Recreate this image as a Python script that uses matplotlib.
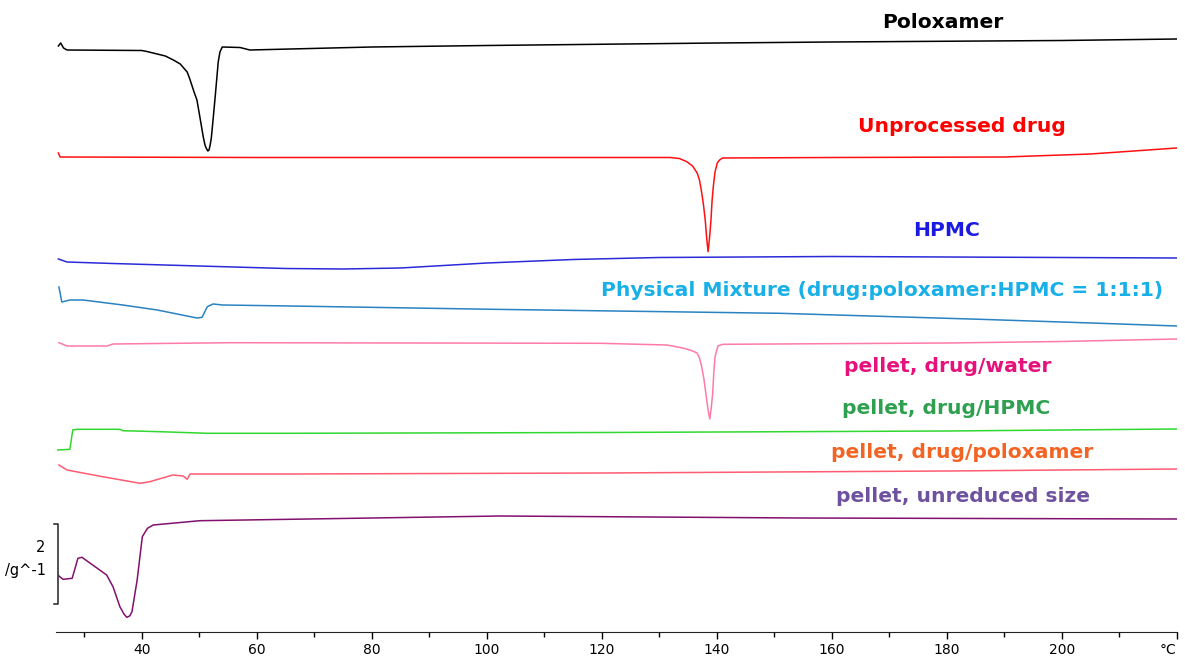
import matplotlib.pyplot as plt

# temperatura (°C) e sinal DSC deslocado (unidades arbitrárias, eixo invertido)
t_polox = [25.5, 25.9, 26.4, 27, 40, 40.9, 44.1, 45.5, 46.7, 47.9, 48.3, 49.1,
           49.6, 50.2, 50.7, 51.0, 51.2, 51.5, 51.7, 51.9, 52.1, 52.4, 52.8,
           53.3, 53.6, 54.0, 57.1, 58.8, 80, 100, 140, 160, 200, 220]
y_polox = [46, 43, 48, 50, 50.5, 51.5, 56, 60, 64, 72, 78, 92,
           100, 120, 137, 145, 148, 151, 150, 145, 138, 120, 95,
           62, 52, 47, 47.5, 50, 47, 45.5, 43, 42, 40.5, 39]

t_droga = [25.5, 25.8, 60, 100, 131.9, 133.5, 134.8, 135.8, 136.6, 137.0,
           137.4, 137.7, 138.0, 138.25, 138.5, 138.75, 139.0, 139.2, 139.4,
           139.7, 140.1, 140.5, 141.0, 160, 190, 205, 215, 220]
y_droga = [153, 157, 157.5, 157.5, 157.5, 158.5, 161.7, 166, 173, 180,
           193, 205, 220, 238, 251.7, 238, 220, 200, 187,
           172, 163, 160, 158, 157.5, 157, 154, 150, 148]

t_hpmc = [25.5, 27, 35, 50, 65, 75, 85, 100, 115, 130, 145, 160, 180, 200,
          220]
y_hpmc = [259, 262, 263.5, 266, 268.5, 269, 268, 263, 259.5, 257.5, 257,
          256.5, 257, 257.5, 258]

t_mistura = [25.6, 26.1, 27.5, 29.8, 36.7, 42.7, 49.6, 50.5, 51.4, 52.4, 54.1,
             65.8, 101.0, 151.0, 185.8, 206.7, 220]
y_mistura = [287, 302, 300, 300, 305, 310, 318, 317.3, 306.7, 304, 305,
             306, 309.3, 313.3, 319.3, 323.3, 326]

t_agua = [25.6, 27.0, 34.0, 35.0, 55.4, 119.7, 131.3, 134.1, 135.6, 136.6,
          137.0, 137.4, 137.8, 138.1, 138.5, 138.8, 139.05, 139.3, 139.5,
          139.7, 140.2, 141.1, 180, 200, 220]
y_agua = [342.7, 346, 346, 344, 342.7, 343.3, 345, 348, 350.5, 353,
          358, 367, 380, 393, 410, 419, 408, 393, 372,
          357, 346, 344.3, 343, 341.5, 339]

t_p_hpmc = [25.4, 27.5, 28.0, 28.7, 36.2, 36.7, 43.2, 51.4, 65.8, 120, 180,
            220]
y_p_hpmc = [450, 449.3, 430, 429.3, 429.3, 430.7, 431.7, 433.3, 433.3, 432.5,
            431, 429]

t_p_polox = [25.6, 27.0, 33.0, 39.7, 41.4, 45.4, 47.2, 47.9, 48.4, 65.8, 120,
             180, 220]
y_p_polox = [465, 470, 476.5, 483.3, 481.7, 475, 476, 479.3, 474, 474, 473,
             471, 469]

t_pellet = [25.6, 26.3, 27.9, 28.9, 29.6, 33.9, 35.0, 36.2, 36.9, 37.4, 37.9,
            38.3, 39.2, 40.1, 41.0, 42.0, 50.1, 102.3, 154.5, 220]
y_pellet = [576, 579.3, 578.3, 558.3, 557.3, 575, 586.7, 606.7, 614, 617.3,
            616, 611.7, 580, 536.7, 528.3, 525, 520.7, 516, 518, 519]

rotulos = ['Poloxamer', 'Unprocessed drug', 'HPMC',
           'Physical Mixture (drug:poloxamer:HPMC = 1:1:1)',
           'pellet, drug/water', 'pellet, drug/HPMC',
           'pellet, drug/poloxamer', 'pellet, unreduced size']

ticks_maiores = [40, 60, 80, 100, 120, 140, 160, 180, 200, 220]
ticks_rotulos = ['40', '60', '80', '100', '120', '140', '160', '180', '200',
                 '°C']
ticks_menores = [30, 50, 70, 90, 110, 130, 150, 170, 190, 210]

curvas = [(t_polox, y_polox, '#000000', '#000000', (943, 22)),
          (t_droga, y_droga, '#ff1010', '#ff0000', (962, 126)),
          (t_hpmc, y_hpmc, '#2a2ad8', '#1a1ae0', (947, 230)),
          (t_mistura, y_mistura, '#2a82c2', '#18b0e6', (882, 291)),
          (t_agua, y_agua, '#ff7aa6', '#e6127c', (948, 366)),
          (t_p_hpmc, y_p_hpmc, '#30d830', '#2fa050', (946, 409)),
          (t_p_polox, y_p_polox, '#ff5c72', '#f26424', (962, 453)),
          (t_pellet, y_pellet, '#82106e', '#6e52a0', (963, 497))]

W, H = 1185, 660
fig = plt.figure(figsize=(W / 100, H / 100), dpi=100)
x0, x1, yb = 55.5, 1176.7, 632
ax = fig.add_axes([x0 / W, (H - yb) / H, (x1 - x0) / W, yb / H])
ax.set_xlim(25, 220)
ax.set_ylim(yb, 0)


def px_para_t(px):
    return 25 + (px - x0) / (x1 - x0) * 195


for (t, y, cor_linha, cor_texto, (px, py)), rotulo in zip(curvas, rotulos):
    ax.plot(t, y, color=cor_linha, lw=1.1)
    ax.text(px_para_t(px), py, rotulo, color=cor_texto, fontsize=14.6,
            fontweight='bold', ha='center', va='center',
            family='DejaVu Sans')

# barra de escala
xb = px_para_t(58)
xt = px_para_t(54)
ax.plot([xt, xb, xb, xt], [524, 524, 604, 604], color='#222222', lw=1.1,
        clip_on=False)
ax.text(px_para_t(45), 547, '2', fontsize=10.5, ha='right', va='center',
        clip_on=False)
ax.text(px_para_t(46), 571, '/g^-1', fontsize=10.5, ha='right', va='center',
        clip_on=False)

for lado in ['left', 'right', 'top']:
    ax.spines[lado].set_visible(False)
ax.spines['bottom'].set_color('#222222')
ax.set_yticks([])
ax.set_xticks(ticks_maiores)
ax.set_xticklabels(ticks_rotulos, fontsize=10)
ax.get_xticklabels()[-1].set_horizontalalignment('right')
ax.set_xticks(ticks_menores, minor=True)
ax.tick_params(axis='x', which='major', length=5, width=1, pad=3)
ax.tick_params(axis='x', which='minor', length=3.5, width=1)

fig.savefig('out.png', dpi=100)
